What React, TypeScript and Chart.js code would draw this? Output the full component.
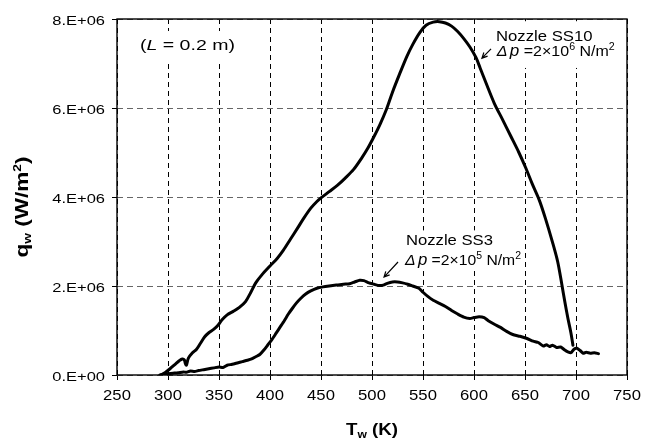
import React, { useEffect, useRef } from 'react';
import { Chart, registerables } from 'chart.js';

Chart.register(...registerables);

// ---- data ----
const xTickValues = [250, 300, 350, 400, 450, 500, 550, 600, 650, 700, 750];
const yTickValues = [0, 2e6, 4e6, 6e6, 8e6];

const ss10T = [293, 297, 302, 307, 311, 314, 316, 317, 318, 320, 324, 328, 332, 336, 340, 345, 349, 353, 358, 364, 370, 376, 381, 386, 392, 400, 407, 413, 420, 427, 433, 440, 446, 450, 458, 466, 474, 482, 490, 496, 502, 508, 514, 520, 527, 534, 540, 547, 553, 560, 566, 572, 578, 584, 590, 596, 602, 606, 612, 620, 628, 636, 644, 651, 657, 664, 670, 677, 682, 686, 689, 692, 695, 697];
const ss10Q = [0, 0.05e6, 0.14e6, 0.24e6, 0.32e6, 0.36e6, 0.34e6, 0.26e6, 0.22e6, 0.38e6, 0.5e6, 0.58e6, 0.72e6, 0.86e6, 0.95e6, 1.03e6, 1.12e6, 1.24e6, 1.35e6, 1.43e6, 1.52e6, 1.65e6, 1.85e6, 2.07e6, 2.25e6, 2.45e6, 2.62e6, 2.8e6, 3.05e6, 3.3e6, 3.52e6, 3.75e6, 3.9e6, 3.98e6, 4.12e6, 4.26e6, 4.43e6, 4.62e6, 4.88e6, 5.1e6, 5.36e6, 5.64e6, 5.96e6, 6.35e6, 6.76e6, 7.15e6, 7.43e6, 7.7e6, 7.86e6, 7.93e6, 7.94e6, 7.91e6, 7.84e6, 7.72e6, 7.56e6, 7.37e6, 7.13e6, 6.9e6, 6.55e6, 6.1e6, 5.74e6, 5.37e6, 5.0e6, 4.64e6, 4.3e6, 3.93e6, 3.52e6, 2.98e6, 2.55e6, 2.05e6, 1.65e6, 1.28e6, 0.95e6, 0.67e6];

const ss3T = [292, 296, 300, 305, 310, 315, 318, 322, 326, 330, 335, 340, 345, 350, 354, 358, 363, 368, 373, 378, 382, 386, 390, 394, 398, 402, 406, 410, 414, 418, 422, 426, 430, 435, 440, 446, 452, 458, 465, 472, 478, 483, 488, 492, 497, 502, 507, 511, 515, 520, 525, 530, 535, 540, 546, 550, 555, 560, 566, 572, 578, 584, 590, 596, 600, 605, 610, 614, 620, 626, 632, 638, 645, 652, 658, 663, 668, 671, 674, 677, 681, 685, 689, 692, 695, 698, 701, 704, 707, 710, 714, 718, 722];
const ss3Q = [0, 0.02e6, 0.03e6, 0.04e6, 0.05e6, 0.07e6, 0.06e6, 0.09e6, 0.08e6, 0.1e6, 0.12e6, 0.14e6, 0.16e6, 0.18e6, 0.17e6, 0.22e6, 0.24e6, 0.27e6, 0.3e6, 0.33e6, 0.36e6, 0.41e6, 0.46e6, 0.56e6, 0.68e6, 0.8e6, 0.94e6, 1.08e6, 1.22e6, 1.37e6, 1.5e6, 1.62e6, 1.72e6, 1.82e6, 1.89e6, 1.95e6, 1.98e6, 2.0e6, 2.02e6, 2.04e6, 2.05e6, 2.09e6, 2.13e6, 2.12e6, 2.07e6, 2.04e6, 2.01e6, 2.02e6, 2.06e6, 2.09e6, 2.09e6, 2.07e6, 2.04e6, 2.0e6, 1.95e6, 1.86e6, 1.76e6, 1.68e6, 1.61e6, 1.54e6, 1.45e6, 1.37e6, 1.3e6, 1.27e6, 1.29e6, 1.31e6, 1.29e6, 1.22e6, 1.14e6, 1.07e6, 0.98e6, 0.91e6, 0.87e6, 0.82e6, 0.76e6, 0.73e6, 0.65e6, 0.68e6, 0.64e6, 0.67e6, 0.62e6, 0.63e6, 0.56e6, 0.52e6, 0.5e6, 0.58e6, 0.6e6, 0.55e6, 0.49e6, 0.51e6, 0.49e6, 0.5e6, 0.48e6];

// ---- text helpers ----
type Seg = { t: string; size: number; bold?: boolean; italic?: boolean; dy?: number };
const FONT = '"Liberation Sans", Arial, Helvetica, sans-serif';

const segFont = (s: Seg) => `${s.italic ? 'italic ' : ''}${s.bold ? 'bold ' : ''}${s.size}px ${FONT}`;

function measureSegs(ctx: CanvasRenderingContext2D, segs: Seg[]) {
  let w = 0;
  for (const s of segs) {
    ctx.font = segFont(s);
    w += ctx.measureText(s.t).width;
  }
  return w;
}

function drawSegs(
  ctx: CanvasRenderingContext2D,
  segs: Seg[],
  x: number,
  y: number,
  align: 'left' | 'center' | 'right',
  opt: { width?: number; stretch?: number },
) {
  const raw = measureSegs(ctx, segs);
  const sx = opt.width ? opt.width / raw : opt.stretch ?? 1;
  const total = raw * sx;
  const start = align === 'left' ? x : align === 'center' ? x - total / 2 : x - total;
  ctx.save();
  ctx.translate(start, y);
  ctx.scale(sx, 1);
  ctx.textAlign = 'left';
  ctx.textBaseline = 'alphabetic';
  ctx.fillStyle = '#000';
  let cx = 0;
  for (const s of segs) {
    ctx.font = segFont(s);
    ctx.fillText(s.t, cx, s.dy ?? 0);
    cx += ctx.measureText(s.t).width;
  }
  ctx.restore();
}

const dpSegs = (exp: string): Seg[] => [
  { t: 'Δ', size: 15, italic: true },
  { t: ' ', size: 8 },
  { t: 'p', size: 16, italic: true },
  { t: ' =2×10', size: 15 },
  { t: exp, size: 10, dy: -6 },
  { t: ' N/m', size: 15 },
  { t: '2', size: 10, dy: -6 },
];

const annotations: { segs: Seg[]; x: number; y: number; width: number }[] = [
  { segs: [{ t: '(', size: 15 }, { t: 'L', size: 15, italic: true }, { t: ' = 0.2 m)', size: 15 }], x: 272.5, y: 7.3e6, width: 95 },
  { segs: [{ t: 'Nozzle SS10', size: 15 }], x: 621.6, y: 7.506e6, width: 96.5 },
  { segs: dpSegs('6'), x: 622.3, y: 7.17e6, width: 118 },
  { segs: [{ t: 'Nozzle SS3', size: 15 }], x: 533.3, y: 2.92e6, width: 87 },
  { segs: dpSegs('5'), x: 532.4, y: 2.47e6, width: 116 },
];

// white label boxes (data coords: x0, x1, yTop, yBottom)
const labelBoxes = [
  { x0: 269, x1: 367, y0: 7.73e6, y1: 7.03e6 },
  { x0: 618, x1: 744, y0: 7.95e6, y1: 6.9e6 },
  { x0: 529, x1: 647, y0: 3.25e6, y1: 2.37e6 },
];

const arrows = [
  { x1: 616.7, y1: 7.33e6, x2: 607.8, y2: 7.12e6 },
  { x1: 525.5, y1: 2.54e6, x2: 511.8, y2: 2.2e6 },
];

const fmtY = (v: number) => (v === 0 ? '0.E+00' : `${Math.round(v / 1e6)}.E+06`);

const overlay = {
  id: 'overlay',
  beforeDatasetsDraw(chart: any) {
    const { ctx, scales } = chart;
    const xs = scales.x;
    const ys = scales.y;
    ctx.save();
    ctx.fillStyle = '#fff';
    for (const b of labelBoxes) {
      const l = xs.getPixelForValue(b.x0);
      const r = xs.getPixelForValue(b.x1);
      const t = ys.getPixelForValue(b.y0);
      const bt = ys.getPixelForValue(b.y1);
      ctx.fillRect(l, t, r - l, bt - t);
    }
    ctx.restore();
  },
  afterDatasetsDraw(chart: any) {
    const { ctx, chartArea: a, scales } = chart;
    const xs = scales.x;
    const ys = scales.y;
    // frame
    ctx.save();
    ctx.strokeStyle = '#000';
    ctx.lineWidth = 1.4;
    ctx.setLineDash([]);
    ctx.strokeRect(a.left, a.top, a.right - a.left, a.bottom - a.top);
    ctx.restore();

    // tick labels
    for (const t of ys.ticks) {
      const py = ys.getPixelForValue(t.value);
      drawSegs(ctx, [{ t: fmtY(t.value), size: 13 }], a.left - 12, py + 5.5, 'right', { stretch: 1.27 });
    }
    for (const t of xs.ticks) {
      const px = xs.getPixelForValue(t.value);
      drawSegs(ctx, [{ t: String(t.value), size: 14 }], px, a.bottom + 24.5, 'center', { stretch: 1.19 });
    }

    // axis titles
    drawSegs(
      ctx,
      [
        { t: 'T', size: 17, bold: true },
        { t: 'w', size: 11, bold: true, dy: 3 },
        { t: ' (K)', size: 17, bold: true },
      ],
      (a.left + a.right) / 2,
      435,
      'center',
      { width: 52 },
    );
    ctx.save();
    ctx.translate(28, (a.top + a.bottom) / 2 + 10);
    ctx.rotate(-Math.PI / 2);
    drawSegs(
      ctx,
      [
        { t: 'q', size: 18, bold: true },
        { t: 'w', size: 11, bold: true, dy: 3 },
        { t: ' (W/m', size: 18, bold: true },
        { t: '2', size: 11, bold: true, dy: -7 },
        { t: ')', size: 18, bold: true },
      ],
      0,
      0,
      'center',
      { width: 101 },
    );
    ctx.restore();

    // annotations
    for (const an of annotations) {
      drawSegs(ctx, an.segs, xs.getPixelForValue(an.x), ys.getPixelForValue(an.y), 'left', { width: an.width });
    }
    // arrows
    ctx.save();
    ctx.strokeStyle = '#000';
    ctx.lineWidth = 1.2;
    ctx.setLineDash([]);
    for (const ar of arrows) {
      const x1 = xs.getPixelForValue(ar.x1);
      const y1 = ys.getPixelForValue(ar.y1);
      const x2 = xs.getPixelForValue(ar.x2);
      const y2 = ys.getPixelForValue(ar.y2);
      const ang = Math.atan2(y2 - y1, x2 - x1);
      const hl = 6;
      ctx.beginPath();
      ctx.moveTo(x1, y1);
      ctx.lineTo(x2, y2);
      ctx.moveTo(x2 - hl * Math.cos(ang - 0.45), y2 - hl * Math.sin(ang - 0.45));
      ctx.lineTo(x2, y2);
      ctx.lineTo(x2 - hl * Math.cos(ang + 0.45), y2 - hl * Math.sin(ang + 0.45));
      ctx.stroke();
    }
    ctx.restore();
  },
};

export default function App() {
  const ref = useRef<HTMLCanvasElement | null>(null);
  useEffect(() => {
    if (!ref.current) return;
    const mk = (xsArr: number[], ysArr: number[]) => xsArr.map((x, i) => ({ x, y: ysArr[i] }));
    const chart = new Chart(ref.current, {
      type: 'line',
      data: {
        datasets: [
          {
            label: 'Nozzle SS10',
            data: mk(ss10T, ss10Q),
            borderColor: '#000',
            borderWidth: 3,
            pointRadius: 0,
            tension: 0.3,
            fill: false,
            borderJoinStyle: 'round',
            borderCapStyle: 'round',
          },
          {
            label: 'Nozzle SS3',
            data: mk(ss3T, ss3Q),
            borderColor: '#000',
            borderWidth: 3,
            pointRadius: 0,
            tension: 0.2,
            fill: false,
            borderJoinStyle: 'round',
            borderCapStyle: 'round',
          },
        ],
      },
      options: {
        animation: false,
        responsive: false,
        devicePixelRatio: 1,
        layout: { padding: { left: 0, top: 19, right: 19, bottom: 0 } },
        plugins: { legend: { display: false }, tooltip: { enabled: false }, title: { display: false } },
        scales: {
          x: {
            type: 'linear',
            min: 250,
            max: 750,
            afterBuildTicks: (s: any) => {
              s.ticks = xTickValues.map((v) => ({ value: v }));
            },
            ticks: { display: false },
            grid: { color: '#000', lineWidth: 1, tickLength: 5, tickColor: '#000', drawTicks: true },
            border: { display: false, dash: [5, 4] },
            afterFit: (s: any) => {
              s.height = 64;
            },
          },
          y: {
            type: 'linear',
            min: 0,
            max: 8e6,
            afterBuildTicks: (s: any) => {
              s.ticks = yTickValues.map((v) => ({ value: v }));
            },
            ticks: { display: false },
            grid: { color: '#666', lineWidth: 1, tickLength: 5, tickColor: '#000', drawTicks: true },
            border: { display: false, dash: [6, 4] },
            afterFit: (s: any) => {
              s.width = 117;
            },
          },
        },
      },
      plugins: [overlay],
    } as any);
    return () => chart.destroy();
  }, []);
  return (
    <div style={{ position: 'absolute', left: 0, top: 0, width: 646, height: 439, background: '#fff' }}>
      <canvas ref={ref} width={646} height={439} style={{ display: 'block' }} />
    </div>
  );
}
